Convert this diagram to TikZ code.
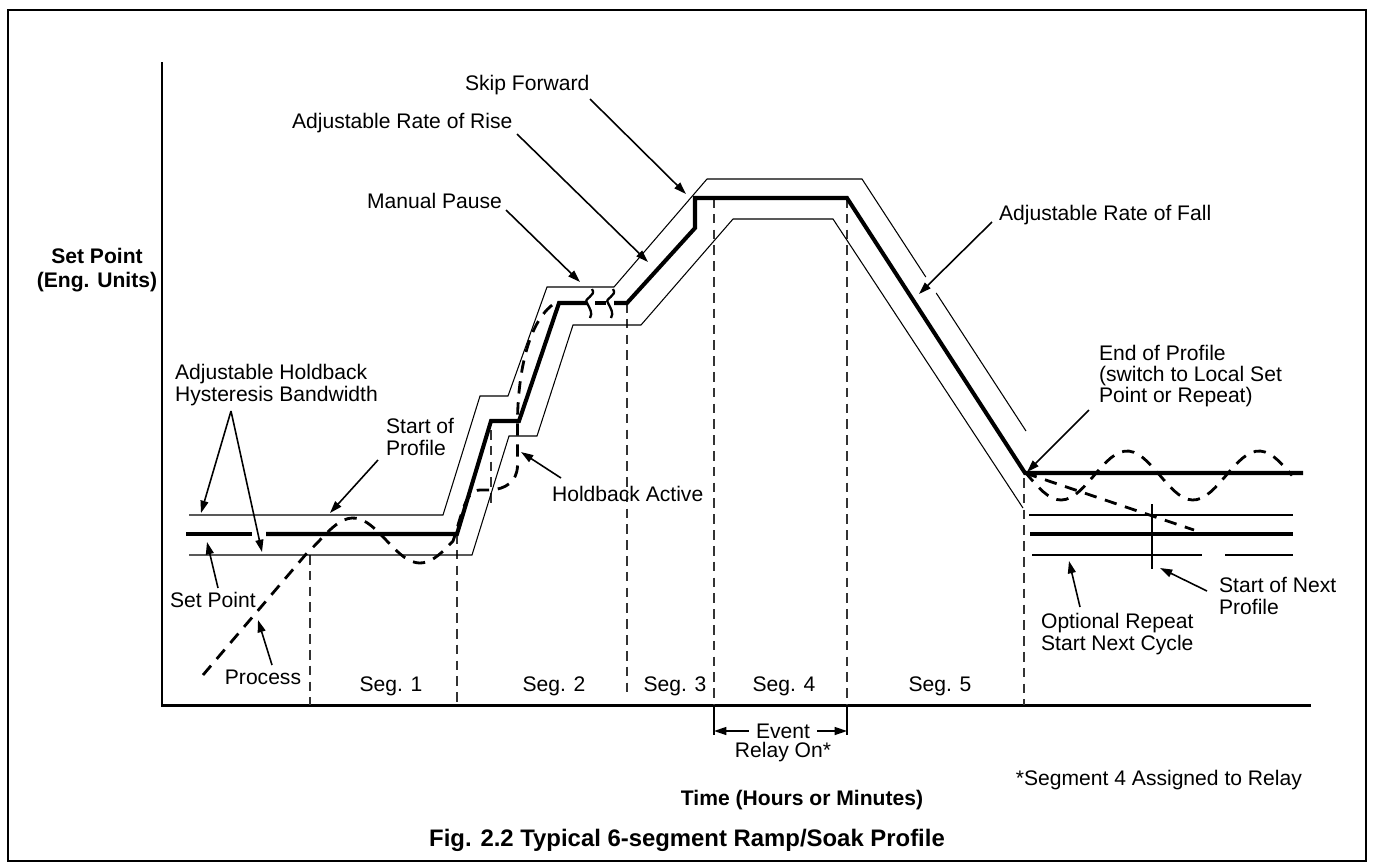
\documentclass[tikz,border=0pt]{standalone}
\usepackage{fontspec}
\setmainfont{Liberation Sans}
\usetikzlibrary{arrows.meta,calc,positioning}

\begin{document}
\begin{tikzpicture}[
    x=0.02cm, y=-0.02cm,
    label/.style={font=\fontsize{12}{12}\selectfont, inner sep=1pt, align=left},
    boldlabel/.style={font=\fontsize{12}{14}\selectfont\bfseries, inner sep=1pt, align=center},
    setpoint/.style={line width=2.3pt},
    band/.style={line width=0.6pt},
    process/.style={line width=1.6pt, dash pattern=on 7pt off 5pt},
    segline/.style={line width=0.6pt, dash pattern=on 5.5pt off 3.5pt, black!80},
    axis/.style={line width=1.7pt},
    arrow/.style={-{Triangle[length=7pt,width=4.5pt]}, line width=0.9pt},
    breakmark/.style={line width=1.3pt}
]

% Frame and axes
\useasboundingbox (0,0) rectangle (1373,867);
\draw[line width=1.3pt] (8,10) rectangle (1366,861);
\coordinate (ytop) at (162,62);
\coordinate (origin) at (162,705);
\coordinate (xend) at (1311,705);
\draw[axis] (ytop) -- (origin) -- (xend);

% Segment boundaries
\foreach \sx/\sy/\se in {310/555/705, 457/534/705, 627/303/697, 714/198/705, 847/198/705, 1024/478/705}
  \draw[segline] (\sx,\sy) -- (\sx,\se);
\draw[segline] (491,430) -- (491,505);
\draw[band] (714,705) -- (714,735);
\draw[band] (847,705) -- (847,735);

% Holdback band
\draw[band] (189,515) -- (443,515) -- (480,396) -- (508,396) -- (547,287) -- (614,287) -- (707,179) -- (862,179) -- (925.8,277);
\draw[band] (936.2,293) -- (1026,431);
\draw[band] (189,555) -- (472,555) -- (509,436) -- (537,436) -- (573,325) -- (641,325) -- (733,219) -- (833,219) -- (1023,508);

% Repeat band
\draw[band] (1029,515) -- (1293,515);
\draw[band] (1032,555) -- (1202,555);
\draw[band] (1225,555) -- (1293,555);
\draw[setpoint] (1030,534) -- (1293,534);
\draw[line width=1.2pt] (1152,504) -- (1152,569);

% Set point profile
\draw[setpoint] (186,534) -- (252,534);
\draw[setpoint] (266,534) -- (457,534) -- (491,421) -- (519,421) -- (559,303) -- (587,303);
\draw[setpoint] (595,303) -- (606,303);
\draw[setpoint] (614,303) -- (627,303) -- (695,228) -- (695,198) -- (847,198) -- (1025,473) -- (1303,473);
\foreach \bx in {0,21}
  \draw[breakmark, shift={(\bx,0)}] (592,289) .. controls (597,296) and (583,298) .. (587,303) .. controls (590,309) and (593,313) .. (590,318);

% Process
\draw[process] (203,675) -- (307,553) -- plot[domain=307:453, samples=40] (\x, {540.5-22.5*cos((\x-353)/134*360)})
  .. controls (462,515) and (465,490) .. (480,490) -- (491,490) .. controls (505,489) and (517.5,482) .. (517.5,465)
  -- (517.5,420) .. controls (518,380) and (526,322) .. (555,303);
\draw[process] (1025,473) -- (1194,530);
\draw[process] plot[domain=1025:1292, samples=60] (\x, {475.5+24.5*cos((\x-1193)/132*360)});

% Labels
\node[boldlabel] (ylabel) at (97,270) {Set Point\\(Eng. Units)};
\node[label, anchor=west] (hyst) at (173,385) {Adjustable Holdback\\Hysteresis Bandwidth};
\node[label, anchor=west] (startprof) at (384,437) {Start of\\Profile};
\node[label, anchor=west] (setpt) at (168,600) {Set Point};
\node[label] (process) at (263,677) {Process};
\node[label, anchor=west] (holdact) at (550,494) {Holdback Active};
\node[label, anchor=west] (pause) at (365,201) {Manual Pause};
\node[label, anchor=west] (rise) at (290,123) {Adjustable Rate of Rise};
\node[label, anchor=west] (skip) at (463,85) {Skip Forward};
\node[label, anchor=west] (fall) at (997,215) {Adjustable Rate of Fall};
\node[label, anchor=west] (endprof) at (1097,376) {End of Profile\\(switch to Local Set\\Point or Repeat)};
\node[label, anchor=west] (nextprof) at (1217,596) {Start of Next\\Profile};
\node[label, anchor=west] (repeat) at (1039,634) {Optional Repeat\\Start Next Cycle};
\foreach \n/\lx in {1/391, 2/554, 3/675, 4/784, 5/940}
  \node[label] (seg\n) at (\lx,686) {Seg. \n};
\node[label] (event) at (783,731) {Event};
\node[label] (relay) at (783,752) {Relay On*};
\node[label, anchor=east] (note) at (1304,780) {*Segment 4 Assigned to Relay};
\node[boldlabel] (xlabel) at (802,800) {Time (Hours or Minutes)};
\node[boldlabel, font=\fontsize{13.6}{15}\selectfont\bfseries] (title) at (687,840) {Fig. 2.2 Typical 6-segment Ramp/Soak Profile};

% Arrow ends
\coordinate (hystfrom) at (231,411);
\coordinate (hystup) at (201,513);
\coordinate (hystlow) at (262,552);
\coordinate (startfrom) at (378,460);
\coordinate (startto) at (330,513);
\coordinate (spfrom) at (218,588);
\coordinate (spto) at (207,542);
\coordinate (procfrom) at (272,665);
\coordinate (procto) at (258,620);
\coordinate (holdfrom) at (561,478);
\coordinate (holdto) at (521,452);
\coordinate (pausefrom) at (506,210);
\coordinate (pauseto) at (580,282);
\coordinate (risefrom) at (517,134);
\coordinate (riseto) at (648,262);
\coordinate (skipfrom) at (590,99);
\coordinate (skipto) at (686,194);
\coordinate (fallfrom) at (992,222);
\coordinate (fallto) at (919,294);
\coordinate (endfrom) at (1089,410);
\coordinate (endto) at (1027,472);
\coordinate (nextfrom) at (1207,591);
\coordinate (nextto) at (1160,568);
\coordinate (repfrom) at (1080,607);
\coordinate (repto) at (1069,561);
\coordinate (evleft) at (714,731);
\coordinate (evright) at (847,731);

% Arrows
\draw[arrow] (hystfrom) -- (hystup);
\draw[arrow] (hystfrom) -- (hystlow);
\draw[arrow] (startfrom) -- (startto);
\draw[arrow] (spfrom) -- (spto);
\draw[arrow] (procfrom) -- (procto);
\draw[arrow] (holdfrom) -- (holdto);
\draw[arrow] (pausefrom) -- (pauseto);
\draw[arrow] (risefrom) -- (riseto);
\draw[arrow] (skipfrom) -- (skipto);
\draw[arrow] (fallfrom) -- (fallto);
\draw[arrow] (endfrom) -- (endto);
\draw[arrow] (nextfrom) -- (nextto);
\draw[arrow] (repfrom) -- (repto);
\draw[arrow] ([xshift=-3pt]event.west) -- (evleft);
\draw[arrow] ([xshift=3pt]event.east) -- (evright);

\end{tikzpicture}
\end{document}
